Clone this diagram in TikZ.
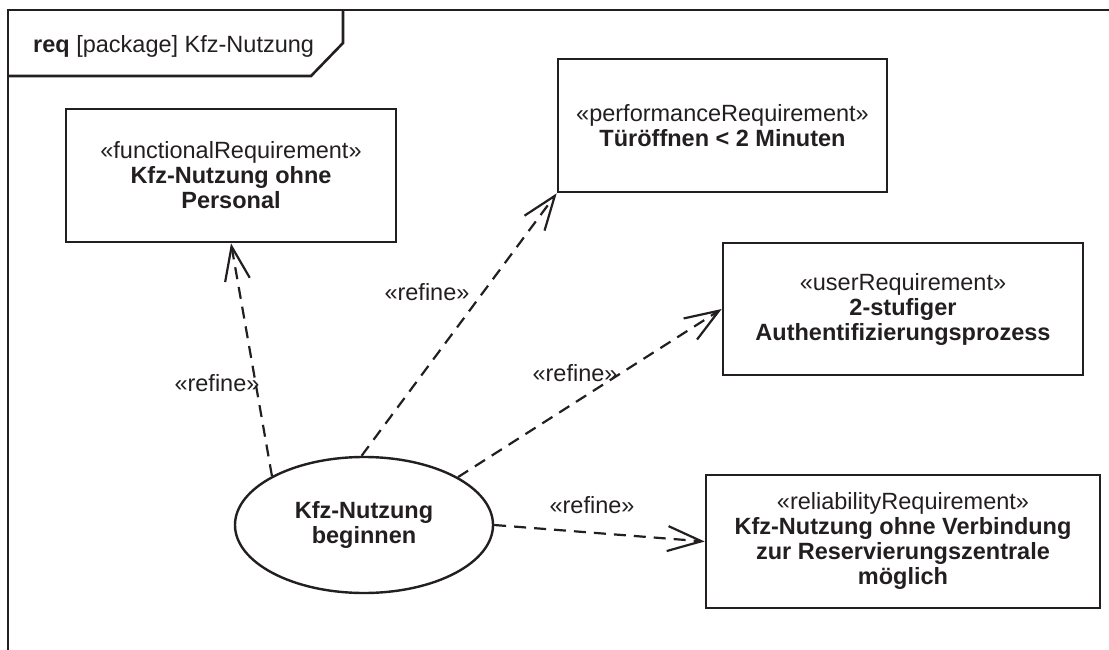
\documentclass[tikz,border=0pt]{standalone}
\usepackage{fontspec}
\setmainfont{Liberation Sans}
\usetikzlibrary{arrows.meta,shapes.geometric}
\definecolor{inkc}{HTML}{231F20}
\begin{document}
\begin{tikzpicture}[x=1pt,y=-1pt,
  every node/.style={text=inkc,font=\fontsize{23.5}{25}\selectfont},
  framestyle/.style={draw=inkc,line width=2.6pt},
  reqbox/.style={draw=inkc,line width=2.6pt,align=center,inner sep=0pt},
  usecase/.style={ellipse,draw=inkc,line width=2.4pt,align=center,inner sep=0pt,
    minimum width=258pt,minimum height=136pt},
  refine/.style={draw=inkc,line width=2.2pt,dash pattern=on 12pt off 8pt,
    -{Straight Barb[length=34pt,width=25pt,line width=2.2pt]}},
  lbl/.style={inner sep=0pt}]
\useasboundingbox (0,0) rectangle (1109,650);

% diagram frame and its name tab
\draw[framestyle] (8,650) -- (8,10) -- (1109,10);
\draw[framestyle] (8,76) -- (311,76) -- (343,43) -- (343,10);
\node[anchor=base west,inner sep=0pt] (title) at (33,53)
  {\textbf{req} [package] Kfz-Nutzung};

% requirements
\node[reqbox,minimum width=330pt,minimum height=133pt] (fr) at (231,175.5)
  {«functionalRequirement»\\\textbf{Kfz-Nutzung ohne}\\\textbf{Personal}};
\node[reqbox,minimum width=329pt,minimum height=133pt] (pr) at (722.5,125.5)
  {«performanceRequirement»\\\textbf{Türöffnen < 2 Minuten}};
\node[reqbox,minimum width=360pt,minimum height=132pt] (ur) at (903,309)
  {«userRequirement»\\\textbf{2-stufiger}\\\textbf{Authentifizierungsprozess}};
\node[reqbox,minimum width=394pt,minimum height=133pt] (rr) at (903,541.5)
  {\raisebox{12pt}{\begin{tabular}{@{}c@{}}«reliabilityRequirement»\\\textbf{Kfz-Nutzung ohne Verbindung}\\\textbf{zur Reservierungszentrale}\\\textbf{möglich}\end{tabular}}};

% use case
\node[usecase] (uc) at (364,525) {\textbf{Kfz-Nutzung}\\\textbf{beginnen}};

% refine relations
\draw[refine] (uc.152) -- (fr.south);
\draw[refine] (uc.92) -- (pr.south west);
\draw[refine] (uc.27) -- (ur.west);
\draw[refine] (uc.0) -- (rr.west);

\node[lbl] (l1) at (217,383) {«refine»};
\node[lbl] (l2) at (427,292) {«refine»};
\node[lbl] (l3) at (575,373) {«refine»};
\node[lbl] (l4) at (592,505) {«refine»};
\end{tikzpicture}
\end{document}
